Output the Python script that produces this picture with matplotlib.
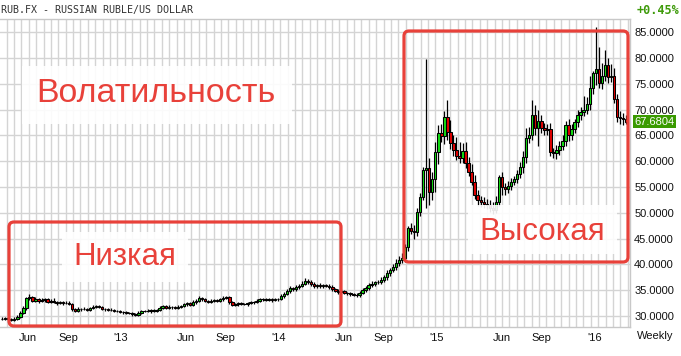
import matplotlib
matplotlib.use('Agg')
import matplotlib.pyplot as plt
import numpy as np
import pandas as pd
from matplotlib.patches import FancyBboxPatch, Rectangle

# ---------------- data (weekly USD/RUB candles) ----------------
start_week = '2012-04-02'
first_open = 29.4
closes = [
    29.5, 29.6, 29.5, 29.3, 29.5, 29.9, 30.6, 31.6, 33.4, 33.6,
    33.0, 33.2, 32.9, 33.1, 33.2, 32.8, 33.0, 32.7, 32.5, 32.7,
    32.5, 32.6, 32.4, 31.3, 31.0, 31.4, 31.3, 31.4, 31.2, 31.5,
    31.8, 31.9, 31.7, 31.4, 31.3, 31.2, 31.1, 31.0, 30.9, 30.8,
    30.7, 30.6, 30.5, 30.3, 30.2, 30.6, 30.9, 31.0, 30.9, 31.1,
    31.0, 31.1, 31.6, 31.9, 31.6, 31.8, 31.7, 31.5, 31.8, 31.9,
    32.3, 32.5, 32.2, 32.7, 33.0, 33.5, 33.2, 32.9, 32.8, 33.0,
    33.1, 33.0, 33.2, 33.5, 33.6, 32.7, 32.2, 32.3, 32.5, 32.4,
    32.3, 32.5, 32.7, 32.8, 33.0, 33.2, 33.3, 33.1, 33.2, 33.1,
    33.2, 33.3, 33.8, 34.3, 34.8, 35.4, 35.2, 35.6, 35.9, 36.3,
    36.8, 36.6, 36.2, 35.8, 36.0, 35.8, 36.0, 35.9, 35.6, 35.2,
    34.9, 34.6, 34.8, 34.5, 34.4, 34.3, 34.1, 34.0, 34.5, 35.0,
    35.4, 36.0, 36.3, 36.5, 36.6, 37.0, 37.5, 38.3, 38.9, 39.5,
    40.3, 40.8, 41.2, 43.4, 47.0, 46.5, 46.2, 50.2, 53.1, 58.3,
    58.7, 54.0, 56.5, 61.8, 65.5, 64.9, 68.6, 65.7, 63.5, 62.2,
    61.0, 60.6, 62.0, 59.6, 57.9, 56.0, 53.4, 52.4, 52.0, 51.8,
    51.5, 51.0, 50.6, 52.0, 56.9, 55.0, 54.6, 55.2, 56.0, 56.5,
    57.5, 58.8, 60.8, 64.5, 65.1, 69.0, 66.5, 67.8, 66.4, 66.0,
    66.3, 61.8, 61.6, 62.2, 63.0, 64.0, 67.0, 65.0, 66.2, 67.6,
    69.0, 69.5, 70.0, 71.0, 74.2, 77.1, 77.8, 75.2, 76.5, 78.6,
    76.3, 76.6, 72.0, 68.6, 68.4, 68.1, 67.68,
]
wick_up = [
    0.3, 0.2, 0.3, 0.2, 0.3, 0.3, 0.3, 0.3, 0.3, 0.6,
    0.3, 0.4, 0.3, 0.3, 0.2, 0.3, 0.3, 0.5, 0.2, 0.3,
    0.2, 0.4, 0.3, 0.2, 0.3, 0.3, 0.2, 0.3, 0.2, 0.3,
    0.4, 0.3, 0.2, 0.3, 0.2, 0.2, 0.3, 0.2, 0.2, 0.3,
    0.2, 0.2, 0.2, 0.2, 0.2, 0.3, 0.2, 0.2, 0.3, 0.2,
    0.2, 0.3, 0.3, 0.3, 0.2, 0.3, 0.2, 0.2, 0.3, 0.2,
    0.3, 0.3, 0.2, 0.4, 0.3, 0.3, 0.2, 0.3, 0.2, 0.2,
    0.2, 0.2, 0.3, 0.4, 0.3, 0.2, 0.2, 0.3, 0.3, 0.2,
    0.2, 0.2, 0.3, 0.2, 0.3, 0.3, 0.2, 0.2, 0.3, 0.2,
    0.3, 0.2, 0.4, 0.3, 0.4, 0.5, 0.3, 0.4, 0.3, 0.4,
    0.6, 0.4, 0.3, 0.4, 0.3, 0.4, 0.3, 0.3, 0.3, 0.4,
    0.3, 0.3, 0.4, 0.3, 0.2, 0.3, 0.2, 0.3, 0.4, 0.4,
    0.5, 0.4, 0.4, 0.3, 0.4, 0.5, 0.5, 0.6, 0.5, 0.6,
    0.7, 0.8, 1.0, 0.6, 0.5, 1.0, 1.2, 0.8, 0.8, 0.5,
    21.1, 2.0, 1.5, 2.0, 1.5, 1.8, 1.2, 3.3, 2.2, 1.5,
    2.5, 2.7, 1.5, 1.8, 1.2, 1.5, 1.4, 1.0, 0.8, 1.0,
    0.8, 0.9, 1.0, 1.2, 0.5, 1.0, 0.8, 0.9, 0.8, 0.7,
    0.8, 1.0, 1.2, 1.9, 1.5, 2.9, 1.8, 2.1, 1.2, 1.0,
    1.0, 1.2, 0.8, 1.0, 1.0, 1.0, 0.8, 1.2, 1.0, 0.5,
    1.0, 1.0, 2.6, 1.5, 2.4, 0.4, 8.3, 4.3, 2.5, 2.9,
    1.4, 2.2, 1.5, 1.0, 1.2, 1.0, 0.8,
]
wick_dn = [
    0.2, 0.3, 0.2, 0.3, 0.2, 0.2, 0.3, 0.3, 0.4, 0.3,
    0.3, 0.2, 0.3, 0.2, 0.3, 0.2, 0.3, 0.2, 0.3, 0.2,
    0.3, 0.2, 0.2, 0.3, 0.3, 0.2, 0.3, 0.2, 0.2, 0.3,
    0.2, 0.3, 0.2, 0.2, 0.3, 0.2, 0.2, 0.3, 0.2, 0.2,
    0.3, 0.2, 0.2, 0.3, 0.2, 0.2, 0.3, 0.2, 0.2, 0.3,
    0.3, 0.2, 0.2, 0.3, 0.2, 0.2, 0.3, 0.2, 0.2, 0.3,
    0.2, 0.3, 0.3, 0.2, 0.3, 0.2, 0.3, 0.2, 0.3, 0.2,
    0.3, 0.2, 0.2, 0.3, 0.2, 0.4, 0.3, 0.2, 0.3, 0.2,
    0.2, 0.3, 0.2, 0.3, 0.2, 0.2, 0.3, 0.2, 0.2, 0.3,
    0.2, 0.3, 0.2, 0.3, 0.3, 0.3, 0.4, 0.3, 0.3, 0.3,
    0.3, 0.4, 0.3, 0.4, 0.3, 0.3, 0.3, 0.3, 0.4, 0.3,
    0.3, 0.4, 0.3, 0.3, 0.3, 0.4, 0.3, 0.4, 0.3, 0.3,
    0.3, 0.4, 0.3, 0.4, 0.3, 0.4, 0.4, 0.5, 0.5, 0.4,
    0.5, 0.6, 0.5, 0.8, 0.8, 0.7, 1.2, 0.6, 0.8, 0.7,
    7.3, 2.5, 1.5, 2.5, 2.4, 1.2, 1.5, 1.5, 1.2, 1.2,
    0.8, 0.9, 1.0, 0.9, 0.7, 0.6, 0.7, 1.0, 0.9, 0.8,
    0.8, 0.9, 0.8, 0.7, 0.6, 1.5, 1.2, 0.8, 0.7, 0.6,
    0.7, 0.8, 1.0, 1.2, 0.9, 1.0, 1.5, 3.5, 1.0, 1.0,
    1.0, 0.7, 1.0, 1.2, 1.0, 0.9, 1.0, 1.0, 0.8, 0.8,
    0.9, 1.0, 0.8, 0.9, 1.0, 1.2, 2.3, 1.0, 1.2, 1.0,
    1.2, 1.0, 0.8, 1.0, 1.2, 1.0, 0.5,
]
y_ticks = [30, 35, 40, 45, 50, 55, 60, 65, 70, 75, 80, 85]
x_tick_dates = ['2012-06-01', '2012-09-01', '2013-01-01', '2013-06-01', '2013-09-01',
                '2014-01-01', '2014-06-01', '2014-09-01', '2015-01-01', '2015-06-01',
                '2015-09-01', '2016-01-01']
x_tick_labels = ['Jun', 'Sep', "'13", 'Jun', 'Sep', "'14", 'Jun', 'Sep', "'15", 'Jun', 'Sep', "'16"]
title_text = 'RUB.FX - RUSSIAN RUBLE/US DOLLAR'
change_text = '+0.45%'
last_price = 67.6804
label_high = 'Волатильность'
label_low = 'Низкая'
label_highvol = 'Высокая'

# ---------------- derived ----------------
closes = np.array(closes)
opens = np.r_[first_open, closes[:-1]]
highs = np.maximum(opens, closes) + np.array(wick_up)
lows = np.minimum(opens, closes) - np.array(wick_dn)
dates = pd.date_range(start_week, periods=len(closes), freq='7D')

W, H = 681, 356
fig = plt.figure(figsize=(W / 100, H / 100), dpi=100)
fig.patch.set_facecolor('white')
ax = fig.add_axes([0, (H - 327) / H, 630 / W, 308 / H])
ax.set_xlim(pd.Timestamp('2012-03-28'), pd.Timestamp('2016-03-23'))
ax.set_ylim(27.87, 87.56)

grid_c = '#d4d4d4'
anchor = pd.Timestamp('2014-10-22')
steps = np.arange(-70, 40) * 17.09
gdates = [anchor + pd.Timedelta(days=float(s)) for s in steps]
for g in gdates:
    if pd.Timestamp('2012-03-28') < g < pd.Timestamp('2016-03-23'):
        ax.axvline(g, color=grid_c, lw=1.0, zorder=0)
for v in y_ticks:
    ax.axhline(v, color=grid_c, lw=1.0, zorder=0)

# candles
up = closes >= opens
colors = np.where(up, '#14dc14', '#e00000')
body_h = np.maximum(np.abs(closes - opens), 0.1)
ax.vlines(dates, lows, highs, color='black', lw=0.9, zorder=2)
ax.bar(dates, body_h, bottom=np.minimum(opens, closes), width=5.6,
       color=colors, edgecolor='black', linewidth=0.75, zorder=3)

ax.spines['left'].set_visible(False)
for s in ['right', 'bottom', 'top']:
    ax.spines[s].set_color('#c8c8c8')
    ax.spines[s].set_linewidth(1.0)

tick_font = dict(family='Liberation Sans', size=8)
ax.yaxis.tick_right()
ax.set_yticks(y_ticks)
ax.set_yticklabels([f'{v:.4f}' for v in y_ticks], **tick_font, color='#111111')
ax.tick_params(axis='y', length=0, pad=3)
ax.set_xticks([pd.Timestamp(d) for d in x_tick_dates])
ax.set_xticklabels(x_tick_labels, **tick_font, color='#111111')
ax.tick_params(axis='x', length=0, pad=4)

fig.text(655 / W, 1 - 336 / H, 'Weekly', ha='center', va='center', color='#111111', **tick_font)
fig.text(1 / W, 1 - 10 / H, title_text, ha='left', va='center', family='DejaVu Sans Mono',
         size=7.2, color='#333333')
fig.text(679 / W, 1 - 10 / H, change_text, ha='right', va='center', family='DejaVu Sans Mono',
         size=8.5, weight='bold', color='#3f9b0b')

ax.annotate(f'{last_price:.4f}', xy=(1, last_price), xycoords=('axes fraction', 'data'),
            xytext=(3, 0), textcoords='offset points', ha='left', va='center',
            color='white', family='Liberation Sans', size=8, annotation_clip=False,
            bbox=dict(boxstyle='square,pad=0.12', fc='#3a9a00', ec='none'))

tr = fig.dpi_scale_trans
def px(x, y):
    return x / 100, (H - y) / 100

red = '#e8413a'
def white_bg(x0, y0, x1, y1):
    a, b = px(x0, y1)
    fig.add_artist(Rectangle((a, b), (x1 - x0) / 100, (y1 - y0) / 100, transform=tr,
                             fc='white', ec='none', alpha=0.9, zorder=5))

white_bg(22, 66, 292, 124)
white_bg(62, 232, 188, 282)
white_bg(468, 205, 617, 254)

def red_box(x0, y0, x1, y1):
    a, b = px(x0, y1)
    fig.add_artist(FancyBboxPatch((a, b), (x1 - x0) / 100, (y1 - y0) / 100,
                                  boxstyle='round,pad=0,rounding_size=0.05', transform=tr,
                                  fill=False, ec=red, lw=2.3, zorder=10))

red_box(9, 222, 341, 326)
red_box(404, 31, 628, 262)

def big(size):
    return dict(family='Liberation Sans', size=size, color=red, ha='center', va='center', zorder=11)

x, y = px(156, 94)
fig.text(x, y, label_high, transform=tr, **big(24.5))
x, y = px(125, 257)
fig.text(x, y, label_low, transform=tr, **big(22.5))
x, y = px(542, 232)
fig.text(x, y, label_highvol, transform=tr, **big(22.5))

fig.savefig('out.png', dpi=100)
